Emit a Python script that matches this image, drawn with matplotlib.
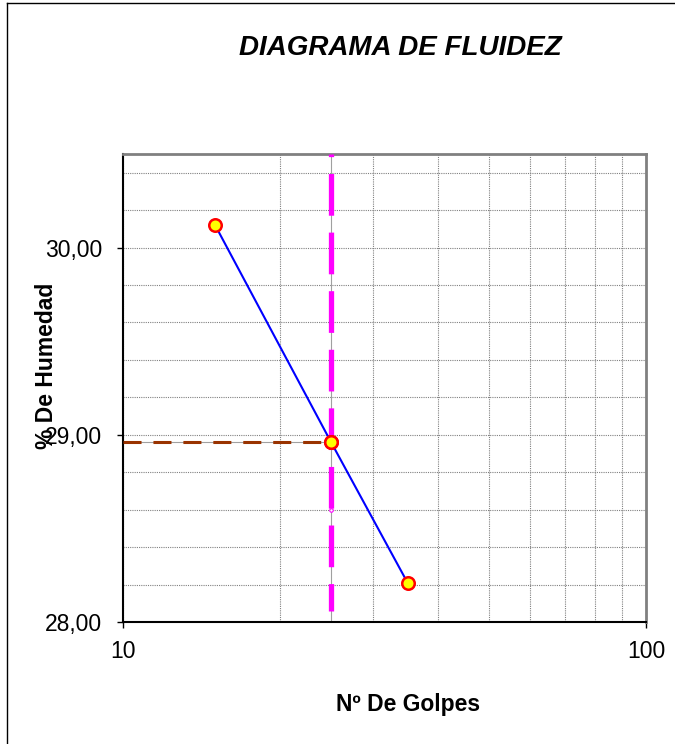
import numpy as np
import matplotlib
matplotlib.use('Agg')
import matplotlib.pyplot as plt
from matplotlib.ticker import FixedLocator, MultipleLocator, NullFormatter, FuncFormatter
from matplotlib.lines import Line2D

plt.rcParams['font.family'] = ['Liberation Sans', 'DejaVu Sans']

# datos del ensayo
golpes = [15, 25, 35]
humedad = [30.12, 28.96, 28.21]
golpes_lim = 25
humedad_lim = 28.96
punto_blanco = 28.60

title = 'DIAGRAMA DE FLUIDEZ'
xlabel = 'Nº De Golpes'
ylabel = '% De Humedad'

W, H = 675, 744
fig = plt.figure(figsize=(W / 100, H / 100), dpi=100)
ax = fig.add_axes([123 / W, 1 - 622 / H, (646 - 123) / W, (622 - 154) / H])

ax.set_xscale('log')
ax.set_xlim(10, 100)
ax.set_ylim(28, 30.5)

# grid
ax.xaxis.set_major_locator(FixedLocator([10, 100]))
ax.xaxis.set_minor_locator(FixedLocator(np.arange(20, 100, 10)))
ax.xaxis.set_minor_formatter(NullFormatter())
ax.xaxis.set_major_formatter(FuncFormatter(lambda v, p: '%d' % v))
ax.yaxis.set_major_locator(FixedLocator([28, 29, 30]))
ax.yaxis.set_minor_locator(MultipleLocator(0.2))
ax.yaxis.set_major_formatter(FuncFormatter(lambda v, p: ('%.2f' % v).replace('.', ',')))
ax.grid(True, which='both', color='#808080', linestyle=(0, (1, 1)), linewidth=0.8)
ax.tick_params(which='minor', length=0)
ax.tick_params(which='major', length=4.3, width=1, labelsize=16.5, direction='out')
ax.tick_params(axis='y', pad=10.7)
ax.tick_params(axis='x', pad=9)

for s in ['left', 'bottom']:
    ax.spines[s].set_color('black')
    ax.spines[s].set_linewidth(1.5)
for s in ['top', 'right']:
    ax.spines[s].set_color('#808080')
    ax.spines[s].set_linewidth(2)

# lineas del limite liquido
ax.plot([golpes_lim, golpes_lim], [28, 30.5], color='#a0a0a0', lw=0.8, zorder=2)
ax.plot([10, golpes_lim], [humedad_lim, humedad_lim], color='#a0a0a0', lw=0.8, zorder=2)
ax.plot([golpes_lim, golpes_lim], [30.5, 28.06], color='#ff00ff', lw=3.8,
        linestyle=(7.4, (7.9, 3.2)), zorder=3)
ax.plot([10, golpes_lim], [humedad_lim, humedad_lim], color='#993300', lw=2.2,
        linestyle=(0, (5.9, 3.9)), zorder=3)
ax.plot([golpes_lim], [punto_blanco], 'o', ms=2.5, mfc='white', mec='#ff00ff', mew=0.8, zorder=4)

ax.plot(golpes, humedad, color='#0000ff', lw=1.5, zorder=5)
ax.plot(golpes, humedad, 'o', ms=9, mfc='#ffff00', mec='#ff0000', mew=1.8, zorder=6)
ax.plot([golpes_lim], [humedad_lim], 'o', ms=9, mfc='#ffff00', mec='#ff0000', mew=1.8, zorder=6)

fig.text(400 / W, 1 - 48 / H, title, fontsize=20, fontweight='bold', fontstyle='italic',
         ha='center', va='center')
fig.text(408 / W, 1 - 704 / H, xlabel, fontsize=16.5, fontweight='bold', ha='center', va='center')
fig.text(47 / W, 1 - 366 / H, ylabel, fontsize=16.5, fontweight='bold', rotation=90,
         ha='center', va='center')

# marco
fig.add_artist(Line2D([7 / W, 7 / W], [0, 1 - 3 / H], color='black', lw=1, transform=fig.transFigure))
fig.add_artist(Line2D([7 / W, 1], [1 - 3 / H, 1 - 3 / H], color='black', lw=1, transform=fig.transFigure))

fig.savefig('out.png', dpi=100)
